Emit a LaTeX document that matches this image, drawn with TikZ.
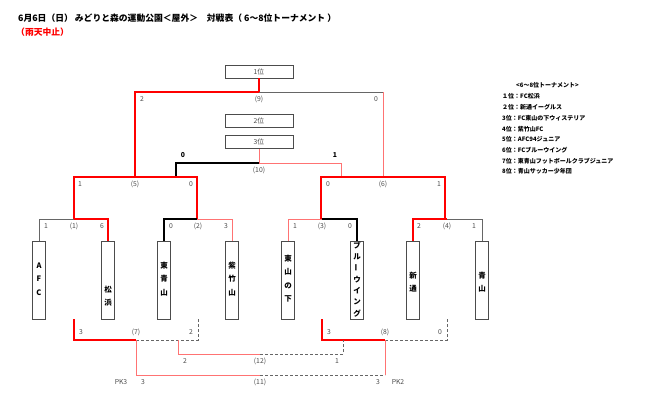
\documentclass[tikz,border=0pt]{standalone}
\usepackage{fontspec}
\setmainfont{Noto Sans CJK JP}
\begin{document}
\begin{tikzpicture}[x=1pt,y=-1pt,
 g/.style={draw=black!60,line width=1pt},
 k/.style={draw=black,line width=1.3pt},
 r/.style={draw=red,line width=1.1pt},
 lr/.style={draw=red!55,line width=1pt},
 d/.style={draw=black!60,line width=0.8pt,densely dashed},
 lab/.style={font=\fontsize{6.8}{8}\selectfont,text=black!70,inner sep=0pt},
 blab/.style={font=\bfseries\fontsize{6.8}{8}\selectfont,inner sep=0pt},
 rank/.style={draw=black!70,line width=1pt,minimum width=68pt,minimum height=13pt,inner sep=0pt,font=\fontsize{6.8}{8}\selectfont,text=black!70},
 team/.style={draw=black!70,line width=1.2pt,minimum width=13pt,minimum height=78pt,inner sep=0pt,anchor=north},
 tch/.style={font=\bfseries\fontsize{7.5}{8}\selectfont,inner sep=0pt},
 leg/.style={font=\bfseries\fontsize{6}{7}\selectfont,inner sep=0pt,anchor=west}]
\useasboundingbox (0,0) rectangle (650,410);
\node[anchor=west,inner sep=0pt,font=\bfseries\fontsize{8.8}{10}\selectfont] (title) at (18,18) {6月6日（日） みどりと森の運動公園＜屋外＞　対戦表（ 6～8位トーナメント ）};
\node[anchor=west,inner sep=0pt,font=\bfseries\fontsize{8.8}{10}\selectfont,text=red] (rain) at (16,32) {（雨天中止）};
% rank boxes
\node[rank] (r1) at (259,71.5) {1位};
\node[rank] (r2) at (259,121) {2位};
\node[rank] (r3) at (259,142) {3位};
% final
\draw[r] (259,78) -- (259,92) -- (135,92) -- (135,177);
\draw[g] (259,92) -- (383,92);
\draw[lr] (383,92) -- (383,177);
\node[lab] (l9a) at (142,99) {2};
\node[lab] (l9) at (259,99) {(9)};
\node[lab] (l9b) at (376,99) {0};
% 3rd place
\draw[lr] (259,149) -- (259,163) -- (341,163) -- (341,177);
\draw[k] (259,163) -- (176,163) -- (176,177);
\node[blab] (l10a) at (183,155) {0};
\node[blab] (l10b) at (335,155) {1};
\node[lab] (l10) at (259,170) {(10)};
% semis
\draw[r] (74,219) -- (74,177) -- (197,177) -- (197,219);
\draw[r] (321,219) -- (321,177) -- (445,177) -- (445,219);
\node[lab] at (80,184) {1};
\node[lab] at (135,184) {(5)};
\node[lab] at (191,184) {0};
\node[lab] at (328,184) {0};
\node[lab] at (383,184) {(6)};
\node[lab] at (439,184) {1};
% quarter
\draw[g] (39,241) -- (39,219) -- (74,219);
\draw[r] (74,219) -- (108,219) -- (108,241);
\draw[k] (164,241) -- (164,219) -- (197,219);
\draw[lr] (197,219) -- (232,219) -- (232,241);
\draw[lr] (288,241) -- (288,219) -- (322,219);
\draw[k] (322,219) -- (357,219) -- (357,241);
\draw[r] (413,241) -- (413,219) -- (447,219);
\draw[g] (447,219) -- (482,219) -- (482,241);
\foreach \x/\t in {46/1,74/(1),102/6,171/0,198/(2),226/3,295/1,322/(3),350/0,419/2,447/(4),474/1}
  \node[lab] at (\x,226) {\t};
% teams
\node[team] (t1) at (39,241) {};
\node[team] (t2) at (108,241) {};
\node[team] (t3) at (164,241) {};
\node[team] (t4) at (232,241) {};
\node[team] (t5) at (288,241) {};
\node[team] (t6) at (357,241) {};
\node[team] (t7) at (413,241) {};
\node[team] (t8) at (482,241) {};
\foreach \c [count=\i] in {A,F,C} \node[tch] at (39,252+13.5*\i) {\c};
\foreach \c [count=\i] in {松,浜} \node[tch] at (108,276+13.5*\i) {\c};
\foreach \c [count=\i] in {東,青,山} \node[tch] at (164,252+13.5*\i) {\c};
\foreach \c [count=\i] in {紫,竹,山} \node[tch] at (232,252+13.5*\i) {\c};
\foreach \c [count=\i] in {東,山,の,下} \node[tch] at (288,245+13.5*\i) {\c};
\foreach \c [count=\i] in {ブ,ル,\rotatebox{90}{ー},ウ,イ,ン,グ} \node[tch] at (357,234+11.3*\i) {\c};
\foreach \c [count=\i] in {新,通} \node[tch] at (413,262+13.5*\i) {\c};
\foreach \c [count=\i] in {青,山} \node[tch] at (482,262+13.5*\i) {\c};
% lower bracket
\draw[r] (74,319) -- (74,340) -- (136,340);
\draw[d] (136,340) -- (198,340) -- (198,319);
\draw[r] (322,319) -- (322,340) -- (385,340);
\draw[d] (385,340) -- (447,340) -- (447,319);
\foreach \x/\t in {81/3,136/(7),191/2,329/3,385/(8),440/0}
  \node[lab] at (\x,332) {\t};
\draw[lr] (178,340) -- (178,354) -- (260,354);
\draw[d] (260,354) -- (343,354) -- (343,340);
\foreach \x/\t in {185/2,260/(12),337/1}
  \node[lab] at (\x,361) {\t};
\draw[lr] (136,340) -- (136,375) -- (260,375);
\draw[d] (260,375) -- (385,375);
\draw[lr] (385,375) -- (385,340);
\foreach \x/\t in {121/PK3,143/3,260/(11),378/3,398/PK2}
  \node[lab] at (\x,382) {\t};
% legend
\node[leg] (lh) at (516,85) {<6～8位トーナメント>};
\foreach \t [count=\i] in {１位：FC松浜,２位：新通イーグルス,3位：FC東山の下ウィステリア,4位：紫竹山FC,5位：AFC94ジュニア,6位：FCブルーウイング,7位：東青山フットボールクラブジュニア,8位：青山サッカー少年団}
  \node[leg] at (502,86+10.7*\i) {\t};
\end{tikzpicture}
\end{document}
